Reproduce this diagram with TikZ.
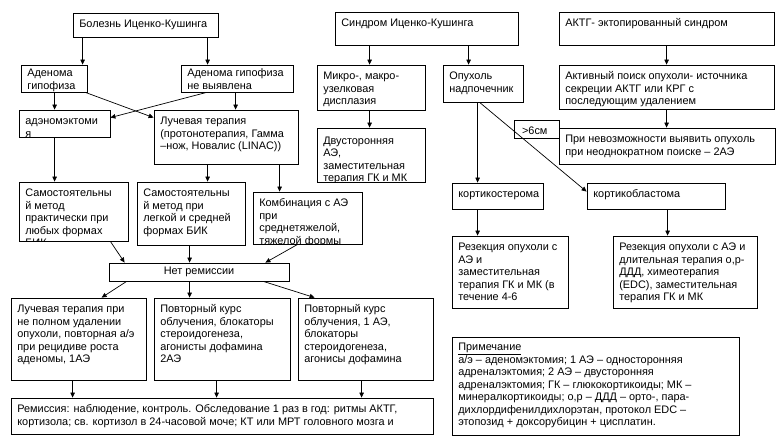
\documentclass[tikz,border=0pt]{standalone}
\usepackage{fontspec}
\setmainfont{Liberation Sans}
\usetikzlibrary{arrows.meta,fit}

% box from (x1,y1) to (x2,y2), text cut off at the frame
\newcommand{\flowbox}[7][6.3]{%
  \node[box, fit={(#3,#4) (#5,#6)}] (#2) {};
  \begin{scope}
    \clip (#2.south west) rectangle (#2.north east);
    \node[txt, anchor=north west] at ([shift={(6.5,#1)}]#2.north west) {\strut #7};
  \end{scope}}

\begin{document}
\begin{tikzpicture}[x=1pt,y=-1pt,
    box/.style={draw, line width=0.8pt, inner sep=0pt},
    txt/.style={inner sep=0pt, align=left, font=\fontsize{10.9}{12.5}\selectfont},
    arr/.style={-{Triangle[length=5pt,width=4.5pt]}, line width=0.7pt}]
        \useasboundingbox (0,0) rectangle (780,445);
        % Болезнь Иценко-Кушинга
        \flowbox{bik}{73}{13}{218}{37}{Болезнь Иценко-Кушинга}
        \flowbox[3.3]{adh}{21}{65}{87}{92}{Аденома\\гипофиза}
        \flowbox[3.3]{adn}{181}{65}{293}{92}{Аденома гипофиза\\не выявлена}
        \flowbox{ade}{19}{110}{110}{137}{адэномэктоми\\я}
        \flowbox{luch}{154}{110}{298}{164}{Лучевая терапия\\(протонотерапия, Гамма\\–нож, Новалис (LINAC))}
        \flowbox{sam1}{19}{182}{128}{241}{Самостоятельны\\й метод\\практически при\\любых формах\\БИК}
        \flowbox{sam2}{137}{182}{245}{245}{Самостоятельны\\й метод при\\легкой и средней\\формах БИК}
        \flowbox{komb}{253}{192}{362}{244}{Комбинация с АЭ\\при\\среднетяжелой,\\тяжелой формы}
        \flowbox{net}{109}{263}{289}{281}{}
        \node[txt] at (net) {Нет ремиссии};
        \flowbox{povL}{11}{298}{146}{380}{Лучевая терапия при\\не полном удалении\\опухоли, повторная а/э\\при рецидиве роста\\аденомы, 1АЭ}
        \flowbox{povM}{154}{298}{290}{380}{Повторный курс\\облучения, блокаторы\\стероидогенеза,\\агонисты дофамина\\2АЭ}
        \flowbox{povR}{298}{298}{433}{380}{Повторный курс\\облучения, 1 АЭ,\\блокаторы\\стероидогенеза,\\агонисы дофамина}
        \flowbox{rem}{11}{398}{433}{434}{Ремиссия: наблюдение, контроль. Обследование 1 раз в год: ритмы АКТГ,\\кортизола; св. кортизол в 24-часовой моче; КТ или МРТ головного мозга и}

        \draw[arr] ([xshift=10]bik.south west) coordinate (t) -- (t |- adh.north);
        \draw[arr] ([xshift=135]bik.south west) coordinate (t) -- (t |- adn.north);
        \draw[arr] ([xshift=34]adh.south west) coordinate (t) -- (t |- ade.north);
        \draw[arr] ([xshift=55]adn.south west) coordinate (t) -- (t |- luch.north);
        \draw[arr] ([xshift=-2]adh.south east) -- ([yshift=-8]luch.north west); % crossing
        \draw[arr] ([xshift=26]adn.south west) -- ([yshift=-8]ade.north east);
        \draw[arr] ([xshift=36]ade.south west) coordinate (t) -- (t |- sam1.north);
        \draw[arr] ([xshift=54]luch.south west) coordinate (t) -- (t |- sam2.north);
        \draw[arr] ([xshift=126]luch.south west) coordinate (t) -- (t |- komb.north);
        % into / out of Нет ремиссии
        \draw[arr] ([xshift=-18]sam1.south east) -- ([xshift=16]net.north west);
        \draw[arr] ([xshift=53]sam2.south west) coordinate (t) -- (t |- net.north);
        \draw[arr] ([xshift=45]komb.south west) -- ([xshift=-24]net.north east);
        \draw[arr] ([xshift=18]net.south west) -- ([xshift=91]povL.north west);
        \draw[arr] ([xshift=81]net.south west) coordinate (t) -- (t |- povM.north);
        \draw[arr] ([xshift=-26]net.south east) -- ([xshift=17]povR.north west);
        \draw[arr] ([xshift=62]povL.south west) coordinate (t) -- (t |- rem.north);
        \draw[arr] ([xshift=63]povM.south west) coordinate (t) -- (t |- rem.north);
        \draw[arr] ([xshift=64]povR.south west) coordinate (t) -- (t |- rem.north);

        % Синдром Иценко-Кушинга
        \flowbox{sik}{335}{12}{518}{45}{Синдром Иценко-Кушинга}
        \flowbox{mikro}{317}{65}{425}{110}{Микро-, макро-\\узелковая\\дисплазия}
        \flowbox{opu}{443}{65}{523}{102}{Опухоль\\надпочечник}
        \flowbox[7.5]{dvu}{317}{128}{425}{182}{Двусторонняя\\АЭ,\\заместительная\\терапия ГК и МК}
        \flowbox{kst}{452}{183}{543}{209}{кортикостерома}
        \flowbox{kbl}{587}{183}{725}{209}{кортикобластома}
        \flowbox{rez1}{452}{236}{568}{308}{Резекция опухоли с\\АЭ и\\заместительная\\терапия ГК и МК (в\\течение 4-6}
        \flowbox{rez2}{613}{236}{757}{308}{Резекция опухоли с АЭ и\\длительная терапия о,р-\\ДДД, химеотерапия\\(EDC), заместительная\\терапия ГК и МК}
        \draw[arr] ([xshift=35]sik.south west) coordinate (t) -- (t |- mikro.north);
        \draw[arr] ([xshift=134]sik.south west) coordinate (t) -- (t |- opu.north);
        \draw[arr] ([xshift=53]mikro.south west) coordinate (t) -- (t |- dvu.north);
        \draw[arr] ([xshift=35]opu.south west) coordinate (t) -- (t |- kst.north);
        \draw[arr] ([xshift=26]kst.south west) coordinate (t) -- (t |- rez1.north);
        \draw[arr] ([xshift=81]kbl.south west) coordinate (t) -- (t |- rez2.north);

        % АКТГ-эктопированный синдром
        \flowbox{akt}{559}{12}{774}{45}{АКТГ- эктопированный синдром}
        \flowbox{akp}{559}{65}{774}{109}{Активный поиск опухоли- источника\\секреции АКТГ или КРГ с\\последующим удалением}
        \flowbox{pri}{559}{128}{775}{164}{При невозможности выявить опухоль\\при неоднократном поиске – 2АЭ}
        \flowbox{six}{514}{120}{559}{138}{\,>6см}
        \draw[arr] ([xshift=108]akt.south west) coordinate (t) -- (t |- akp.north);
        \draw[arr] ([xshift=108]akp.south west) coordinate (t) -- (t |- pri.north);
        \draw[arr] ([xshift=37]opu.south west) -- ([yshift=-9]kbl.north west); % >6 cm

        % Примечание
        \flowbox[5]{note}{452}{337}{739}{435}{\underline{Примечание}\\а/э – аденомэктомия; 1 АЭ – односторонняя\\адреналэктомия; 2 АЭ – двусторонняя\\адреналэктомия; ГК – глюкокортикоиды; МК –\\минералкортикоиды; о,р – ДДД – орто-, пара-\\дихлордифенилдихлорэтан, протокол EDC –\\этопозид + доксорубицин + цисплатин.}
    \end{tikzpicture}
\end{document}
